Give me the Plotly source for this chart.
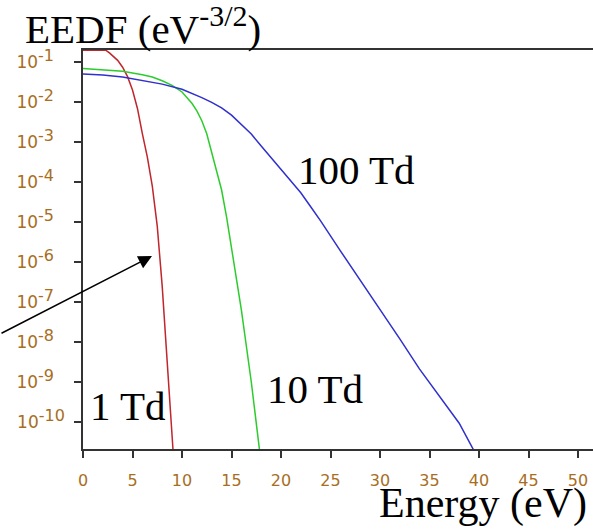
import plotly.graph_objects as go

# ---- data ----
energy_1td = [0, 1, 2, 2.3, 2.7, 3, 3.5, 4, 4.5, 5, 5.5, 6, 6.5, 7, 7.5, 8, 8.5, 9, 9.2]
eedf_1td = [1.97e-1, 1.97e-1, 1.97e-1, 1.97e-1, 1.66e-1, 1.45e-1, 1.10e-1, 7.4e-2, 4.3e-2,
            2.0e-2, 6.9e-3, 1.6e-3, 4.2e-4, 7.9e-5, 7.9e-6, 2.5e-7, 2.8e-9, 3.5e-11, 7.9e-12]

energy_10td = [0, 2, 4, 6, 7, 8, 9, 10, 10.5, 11, 11.5, 12, 12.5, 13, 13.5, 14, 14.5, 15,
               15.5, 16, 17, 18]
eedf_10td = [6.9e-2, 6.5e-2, 5.9e-2, 4.8e-2, 4.2e-2, 3.4e-2, 2.6e-2, 1.78e-2, 1.32e-2,
             9.3e-3, 6.0e-3, 3.4e-3, 1.6e-3, 5.6e-4, 1.9e-4, 6.3e-5, 1.35e-5, 2.2e-6,
             3.5e-7, 6.3e-8, 1.0e-9, 8.9e-12]

energy_100td = [0, 2, 4, 6, 8, 10, 11, 12, 13, 14, 15, 16, 17, 18, 19, 20, 21, 22, 23, 24,
                26, 28, 30, 32, 34, 36, 38, 39.5]
eedf_100td = [5.0e-2, 4.7e-2, 4.2e-2, 3.5e-2, 2.8e-2, 2.09e-2, 1.66e-2, 1.29e-2, 9.8e-3,
              7.1e-3, 4.7e-3, 2.8e-3, 1.58e-3, 7.9e-4, 4.1e-4, 2.1e-4, 1.1e-4, 5.4e-5,
              2.4e-5, 1.07e-5, 1.9e-6, 3.5e-7, 6.8e-8, 1.2e-8, 2.1e-9, 4.3e-10, 9.3e-11,
              1.9e-11]

x_ticks = [0, 5, 10, 15, 20, 25, 30, 35, 40, 45, 50]
y_exponents = [-1, -2, -3, -4, -5, -6, -7, -8, -9, -10]

# ---- figure ----
W, H = 593, 530
ML, MT, MR, MB = 83, 50, 0, 81
PW, PH = W - ML - MR, H - MT - MB

def px_x(p):
    return (p - ML) / PW

def px_y(p):
    return (H - MB - p) / PH

tick_color = "#a86e1e"
axis_color = "#333333"
serif = "Liberation Serif, Times New Roman, serif"

fig = go.Figure()
fig.add_trace(go.Scatter(x=energy_1td, y=eedf_1td, mode="lines",
                         line=dict(color="#c0262c", width=1.5), name="1 Td"))
fig.add_trace(go.Scatter(x=energy_10td, y=eedf_10td, mode="lines",
                         line=dict(color="#2ccc2c", width=1.5), name="10 Td"))
fig.add_trace(go.Scatter(x=energy_100td, y=eedf_100td, mode="lines",
                         line=dict(color="#3030cc", width=1.5), name="100 Td"))

ytickvals = [10.0 ** e for e in y_exponents]
yticktext = []
for e in y_exponents:
    t = f"10<sup><span style='font-size:16px'>{e}</span></sup>"
    if e > -10:
        t += "\u00a0\u00a0"
    yticktext.append(t)

fig.update_layout(
    width=W, height=H,
    margin=dict(l=ML, r=MR, t=MT, b=MB, pad=0),
    paper_bgcolor="white", plot_bgcolor="white",
    showlegend=False,
    xaxis=dict(
        range=[0, PW / 9.9], showgrid=False, zeroline=False,
        showline=True, linecolor=axis_color, linewidth=1.5, mirror=True,
        ticks="outside", ticklen=7, tickwidth=1.5, tickcolor=axis_color,
        tickvals=x_ticks, ticktext=[str(v) for v in x_ticks],
        tickfont=dict(family="DejaVu Sans", size=16, color=tick_color),
        ticklabelstandoff=9,
    ),
    yaxis=dict(
        type="log", range=[-10.675, -10.675 + PH / 40.0],
        showgrid=False, zeroline=False,
        showline=True, linecolor=axis_color, linewidth=1.5,
        ticks="outside", ticklen=7, tickwidth=1.5, tickcolor=axis_color,
        tickvals=ytickvals, ticktext=yticktext,
        tickfont=dict(family="DejaVu Sans", size=17, color=tick_color),
        ticklabelstandoff=6,
    ),
)

annots = [
    dict(text="EEDF (eV<sup><span style='font-size:30px'>-3/2</span></sup>)",
         xref="paper", yref="paper",
         x=px_x(23), y=px_y(25), xanchor="left", yanchor="middle",
         font=dict(family=serif, size=41, color="black"), showarrow=False),
    dict(text="Energy (eV)", xref="paper", yref="paper",
         x=px_x(589), y=px_y(503), xanchor="right", yanchor="middle",
         font=dict(family=serif, size=42, color="black"), showarrow=False),
    dict(text="100 Td", xref="x", yref="y", x=(296 - ML) / 9.9, y=-1 - (170 - 62) / 40,
         xanchor="left", yanchor="middle",
         font=dict(family=serif, size=41, color="black"), showarrow=False),
    dict(text="10 Td", xref="x", yref="y", x=(265 - ML) / 9.9, y=-1 - (389 - 62) / 40,
         xanchor="left", yanchor="middle",
         font=dict(family=serif, size=41, color="black"), showarrow=False),
    dict(text="1 Td", xref="x", yref="y", x=(88 - ML) / 9.9, y=-1 - (406 - 62) / 40,
         xanchor="left", yanchor="middle",
         font=dict(family=serif, size=41, color="black"), showarrow=False),
    dict(text="", xref="x", yref="y", x=(152 - ML) / 9.9, y=-1 - (256 - 62) / 40,
         ax=-160, ay=78, axref="pixel", ayref="pixel",
         showarrow=True, arrowhead=2, arrowsize=1.8, arrowwidth=1.5,
         arrowcolor="black"),
]
fig.update_layout(annotations=annots)

fig.write_html("out.html")
